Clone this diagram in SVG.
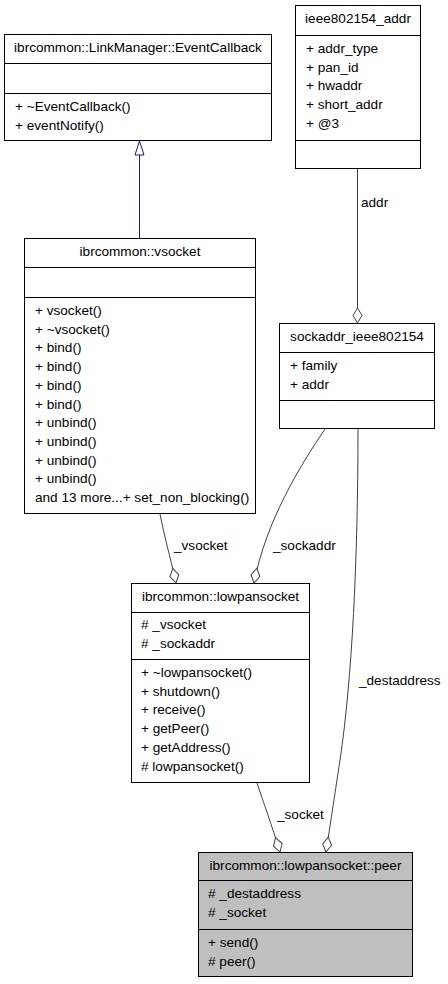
<svg xmlns="http://www.w3.org/2000/svg" width="448" height="984" viewBox="0 0 448 984">
<style>
text{font-family:"Liberation Sans",Arial,Helvetica,sans-serif;font-size:13.6px;fill:#000}
.t{text-anchor:middle}
.box{fill:#fff;stroke:#000;stroke-width:1}
.gray{fill:#bfbfbf}
.div{stroke:#000;stroke-width:1}
.edge{fill:none;stroke:#404040;stroke-width:1}
.inh{fill:none;stroke:#191970;stroke-width:1}
</style>
<defs>
<marker id="dia" markerUnits="userSpaceOnUse" markerWidth="17" markerHeight="11" refX="15.5" refY="5.5" orient="auto" overflow="visible">
<path d="M0.5,5.5 L8,1 L15.5,5.5 L8,10 Z" fill="#fff" stroke="#404040" stroke-width="1"/>
</marker>
<marker id="tri" markerUnits="userSpaceOnUse" markerWidth="16" markerHeight="11" refX="14.5" refY="5" orient="auto" overflow="visible">
<path d="M0.5,0.5 L14.5,5 L0.5,9.5 Z" fill="#fff" stroke="#191970" stroke-width="1"/>
</marker>
</defs>

<g id="connectors">
<path class="inh" d="M139.5,238 L139.5,141" marker-end="url(#tri)"/>
<path class="edge" d="M357.5,169 L357.5,323" marker-end="url(#dia)"/>
<text x="361" y="207">addr</text>
<path class="edge" d="M160,514 C164,535 170,556 176,583" marker-end="url(#dia)"/>
<text x="174" y="550">_vsocket</text>
<path class="edge" d="M325,429 C300,466 266,521 254,583" marker-end="url(#dia)"/>
<text x="273" y="550">_sockaddr</text>
<path class="edge" d="M257,783 C263,801 272,826 280,852" marker-end="url(#dia)"/>
<text x="277" y="819">_socket</text>
<path class="edge" d="M358,429 C358,560 352,680 340,760 C334,800 330,826 326,852" marker-end="url(#dia)"/>
<text x="359" y="685">_destaddress</text>
</g>

<g id="EventCallback">
<rect class="box" x="4.5" y="34.5" width="267" height="106"/>
<line class="div" x1="4.5" y1="63.5" x2="271.5" y2="63.5"/>
<line class="div" x1="4.5" y1="93.5" x2="271.5" y2="93.5"/>
<text class="t" x="138" y="52">ibrcommon::LinkManager::EventCallback</text>
<text x="15" y="111">+ ~EventCallback()</text>
<text x="15" y="129.7">+ eventNotify()</text>
</g>

<g id="ieee802154_addr">
<rect class="box" x="295.5" y="5.5" width="125" height="163"/>
<line class="div" x1="295.5" y1="35.5" x2="420.5" y2="35.5"/>
<line class="div" x1="295.5" y1="140.5" x2="420.5" y2="140.5"/>
<text class="t" x="358" y="23">ieee802154_addr</text>
<text x="306" y="53">+ addr_type</text>
<text x="306" y="71.7">+ pan_id</text>
<text x="306" y="90.4">+ hwaddr</text>
<text x="306" y="109.1">+ short_addr</text>
<text x="306" y="127.8">+ @3</text>
</g>

<g id="vsocket">
<rect class="box" x="24.5" y="238.5" width="231" height="275"/>
<line class="div" x1="24.5" y1="267.5" x2="255.5" y2="267.5"/>
<line class="div" x1="24.5" y1="297.5" x2="255.5" y2="297.5"/>
<text class="t" x="140" y="256">ibrcommon::vsocket</text>
<text x="35" y="315">+ vsocket()</text>
<text x="35" y="333.7">+ ~vsocket()</text>
<text x="35" y="352.4">+ bind()</text>
<text x="35" y="371.1">+ bind()</text>
<text x="35" y="389.8">+ bind()</text>
<text x="35" y="408.5">+ bind()</text>
<text x="35" y="427.2">+ unbind()</text>
<text x="35" y="445.9">+ unbind()</text>
<text x="35" y="464.6">+ unbind()</text>
<text x="35" y="483.3">+ unbind()</text>
<text x="35" y="502">and 13 more...+ set_non_blocking()</text>
</g>

<g id="sockaddr_ieee802154">
<rect class="box" x="279.5" y="323.5" width="155" height="105"/>
<line class="div" x1="279.5" y1="352.5" x2="434.5" y2="352.5"/>
<line class="div" x1="279.5" y1="400.5" x2="434.5" y2="400.5"/>
<text class="t" x="357" y="341">sockaddr_ieee802154</text>
<text x="290" y="370">+ family</text>
<text x="290" y="388.7">+ addr</text>
</g>

<g id="lowpansocket">
<rect class="box" x="131.5" y="583.5" width="178" height="199"/>
<line class="div" x1="131.5" y1="612.5" x2="309.5" y2="612.5"/>
<line class="div" x1="131.5" y1="659.5" x2="309.5" y2="659.5"/>
<text class="t" x="220.5" y="600.5">ibrcommon::lowpansocket</text>
<text x="141" y="629"># _vsocket</text>
<text x="141" y="647.7"># _sockaddr</text>
<text x="141" y="677">+ ~lowpansocket()</text>
<text x="141" y="695.7">+ shutdown()</text>
<text x="141" y="714.4">+ receive()</text>
<text x="141" y="733.1">+ getPeer()</text>
<text x="141" y="751.8">+ getAddress()</text>
<text x="141" y="770.5"># lowpansocket()</text>
</g>

<g id="peer">
<rect class="box gray" x="198.5" y="852.5" width="214" height="124"/>
<line class="div" x1="198.5" y1="880.5" x2="412.5" y2="880.5"/>
<line class="div" x1="198.5" y1="929.5" x2="412.5" y2="929.5"/>
<text class="t" x="305.5" y="869.5">ibrcommon::lowpansocket::peer</text>
<text x="208" y="898"># _destaddress</text>
<text x="208" y="916.7"># _socket</text>
<text x="208" y="947">+ send()</text>
<text x="208" y="965.7"># peer()</text>
</g>
</svg>
